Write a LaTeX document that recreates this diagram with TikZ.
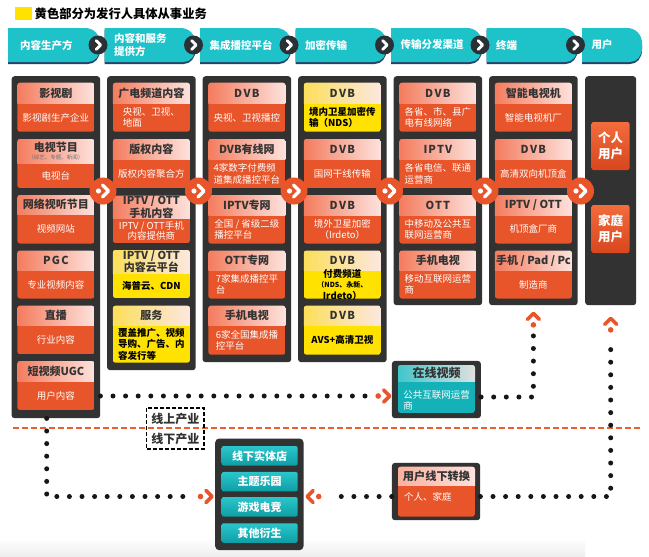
\documentclass[tikz,border=0pt]{standalone}
\usepackage{fontspec}
\setmainfont{Noto Sans CJK SC}
\usetikzlibrary{calc}
\definecolor{ctab}{HTML}{1EC3CA}
\definecolor{ctabsh}{HTML}{26416B}
\definecolor{cframe}{HTML}{323232}
\definecolor{corange}{HTML}{E8552A}
\definecolor{chdrL}{HTML}{F47C5E}
\definecolor{chdrR}{HTML}{FDE2DD}
\definecolor{cyel}{HTML}{FFE200}
\definecolor{cyhL}{HTML}{FCDF5A}
\definecolor{cyhR}{HTML}{FCE7E0}
\definecolor{ctxt}{HTML}{333333}
\definecolor{cteal}{HTML}{14B2B8}
\definecolor{ctealL}{HTML}{2AC6CB}
\definecolor{ctealD}{HTML}{0E9EA4}
\definecolor{cthL}{HTML}{40C6CA}
\definecolor{cthR}{HTML}{E0E0E0}
\definecolor{cdark}{HTML}{2B3036}
\definecolor{cdot}{HTML}{161616}
\definecolor{cubL}{HTML}{F26C3C}
\definecolor{cubD}{HTML}{D8461E}
\definecolor{cred}{HTML}{E9602E}
\newcommand{\DVB}{D\kern1.3ptV\kern1.3ptB}
\newcommand{\IPTV}{I\kern1ptP\kern1ptT\kern1ptV}
\newcommand{\OTT}{O\kern1ptT\kern1ptT}
\newcommand{\PGC}{P\kern1.3ptG\kern1.3ptC}
\tikzset{
 frame/.style={fill=cframe, rounded corners=3pt, inner sep=0pt, draw=none},
 hdrtxt/.style={font=\bfseries\fontsize{11}{10.8}\selectfont, text=ctxt, align=center, inner sep=0pt},
 o-body/.style={fill=corange},
 o-hdr/.style={left color=chdrL, right color=chdrR},
 o-txt/.style={font=\fontsize{9.5}{11.5}\selectfont, text=white, align=center, inner sep=0pt},
 y-body/.style={fill=cyel},
 y-hdr/.style={left color=cyhL, right color=cyhR},
 y-txt/.style={font=\bfseries\fontsize{9.5}{11.5}\selectfont, text=black, align=center, inner sep=0pt},
 tabtxt/.style={font=\bfseries\fontsize{10.5}{13}\selectfont, text=white, anchor=west, align=left, inner sep=0pt},
 userbtn/.style={top color=cubL, bottom color=cubD, rounded corners=2pt, minimum width=38pt, minimum height=48pt, text=white, font=\bfseries\fontsize{12.5}{16}\selectfont, align=center, inner sep=0pt},
 tealbtn/.style={top color=ctealL, bottom color=ctealD, rounded corners=2pt, minimum width=76pt, minimum height=19.5pt, text=white, font=\bfseries\fontsize{11}{12}\selectfont, inner sep=0pt},
 dotsline/.style={draw=cdot, line width=5pt, dash pattern=on 0pt off 12.6pt, line cap=round},
 reddash/.style={draw=cred, line width=2.2pt, dash pattern=on 6pt off 3pt},
 lbltxt/.style={font=\bfseries\fontsize{12}{13}\selectfont, text=ctxt, inner sep=0pt},
 oarr/.pic={\fill[corange] (-11.5,0) circle[radius=2.8];
   \draw[corange, line width=3.6pt, line cap=round, line join=round] (-6,-6) -- (0,0) -- (-6,6);},
 carr/.pic={\fill[corange] (0,0) circle[radius=13.5];
   \fill[white] (-4.5,0) circle[radius=2.6];
   \draw[white, line width=3.5pt, line cap=round, line join=round] (-0.5,-6) -- (5.5,0) -- (-0.5,6);},
 harr/.pic={\fill[cdark] (0,0) circle[radius=9.5];
   \draw[white, line width=2.8pt, line cap=round, line join=round] (-1.8,-4.5) -- (2.7,0) -- (-1.8,4.5);}
}
\newcommand{\tabfill}[3]{%
 \fill[#3] (#1,28) -- ({#2-15},28) .. controls ({#2-6},28) and (#2,35) .. (#2,43) -- (#2,48) .. controls (#2,56) and ({#2-5},62) .. ({#2-12},62) -- (#1,62) -- cycle;}
\newcommand{\anycard}[9]{%
 \begin{scope}
  \clip[rounded corners=2.5pt] (#2,#3) rectangle ++(77,#4);
  \fill[#6-body] (#2,#3) rectangle ++(77,#4);
  \shade[#6-hdr] (#2,#3) rectangle ++(77,#5);
 \end{scope}
 \node[hdrtxt] (#1h) at ({#2+38.5},{#3+#5/2}) {#8};
 \node[#6-txt,#7] (#1b) at ({#2+38.5},{#3+#5+(#4-#5)/2}) {#9};
}
\begin{document}
\begin{tikzpicture}[x=1pt,y=-1pt]
\useasboundingbox (0,0) rectangle (649,557);
\fill[white] (0,0) rectangle (649,557);
\shade[top color=white, bottom color=black!7] (0,538) rectangle (585,557);
% title
\fill[cyel] (15,7) rectangle (31.5,19.5);
\node[anchor=west, font=\bfseries\fontsize{12.3}{14}\selectfont, inner sep=0pt] (title) at (34.5,13.3) {黄色部分为发行人具体从事业务};
% header tabs
\tabfill{8}{100}{ctabsh, yshift=-2pt}\tabfill{8}{100}{ctab}
\tabfill{104.5}{195.5}{ctabsh, yshift=-2pt}\tabfill{104.5}{195.5}{ctab}
\tabfill{200}{291}{ctabsh, yshift=-2pt}\tabfill{200}{291}{ctab}
\tabfill{295.5}{386.5}{ctabsh, yshift=-2pt}\tabfill{295.5}{386.5}{ctab}
\tabfill{391}{482}{ctabsh, yshift=-2pt}\tabfill{391}{482}{ctab}
\tabfill{486.5}{577.5}{ctabsh, yshift=-2pt}\tabfill{486.5}{577.5}{ctab}
\tabfill{582}{642}{ctabsh, yshift=-2pt}\tabfill{582}{642}{ctab}
\node[tabtxt] (t1) at (20,45) {内容生产方};
\node[tabtxt, font=\bfseries\fontsize{10.5}{13.4}\selectfont] (t2) at (114,45) {内容和服务\\提供方};
\node[tabtxt] (t3) at (209.5,45) {集成播控平台};
\node[tabtxt] (t4) at (305,45) {加密传输};
\node[tabtxt] (t5) at (400.5,45) {传输分发渠道};
\node[tabtxt] (t6) at (496,45) {终端};
\node[tabtxt] (t7) at (591.5,45) {用户};
\foreach \i in {0,...,5} { \pic at ({98+95.5*\i},45) {harr}; }
% column frames
\node[frame, anchor=north west, minimum width=88.6pt, minimum height=342pt] (f1) at (11.4,76) {};
\node[frame, anchor=north west, minimum width=88.6pt, minimum height=294pt] (f2) at (106.9,76) {};
\node[frame, anchor=north west, minimum width=88.6pt, minimum height=286pt] (f3) at (202.4,76) {};
\node[frame, anchor=north west, minimum width=88.6pt, minimum height=286pt] (f4) at (297.9,76) {};
\node[frame, anchor=north west, minimum width=88.6pt, minimum height=229pt] (f5) at (393.4,76) {};
\node[frame, anchor=north west, minimum width=88.6pt, minimum height=229pt] (f6) at (488.9,76) {};
\node[frame, anchor=north west, minimum width=51pt, minimum height=229pt] (f7) at (585,76) {};
% column 1
\anycard{c11}{17.4}{82.7}{49}{20.5}{o}{}{影视剧}{影视剧生产企业}
\anycard{c12}{17.4}{139}{49}{24}{o}{}{电视节目\\[-2pt]{\fontsize{5.5}{6}\selectfont\mdseries\color{ctxt!70}（综艺、专题、新闻）}}{电视台}
\anycard{c13}{17.4}{195}{48.5}{19.5}{o}{}{网络视听节目}{视频网站}
\anycard{c14}{17.4}{250.5}{48}{20}{o}{}{\PGC}{专业视频内容}
\anycard{c15}{17.4}{305.7}{48.5}{20}{o}{}{直播}{行业内容}
\anycard{c16}{17.4}{361}{49}{20}{o}{}{短视频UGC}{用户内容}
% column 2
\anycard{c21}{112.9}{82.7}{49}{20.5}{o}{align=left}{广电频道内容}{央视、卫视、\\地面}
\anycard{c22}{112.9}{139}{49}{20.5}{o}{}{版权内容}{版权内容聚合方}
\anycard{c23}{112.9}{195.5}{47.5}{23}{o}{font=\fontsize{9.5}{10.5}\selectfont}{IPTV / OTT\\手机内容}{IPTV / OTT手机\\内容提供商}
\anycard{c24}{112.9}{250}{48}{23}{y}{}{IPTV / OTT\\内容云平台}{海普云、CDN}
\anycard{c25}{112.9}{305.7}{57}{20}{y}{align=left}{服务}{覆盖推广、视频\\导购、广告、内\\容发行等}
% column 3
\anycard{c31}{208.4}{82.7}{49}{20.5}{o}{}{\DVB}{央视、卫视播控}
\anycard{c32}{208.4}{139}{49}{20.5}{o}{align=left}{DVB有线网}{4家数字付费频\\道集成播控平台}
\anycard{c33}{208.4}{195}{48.5}{20}{o}{align=left}{IPTV专网}{全国 / 省级二级\\播控平台}
\anycard{c34}{208.4}{250.5}{48}{20}{o}{align=left}{OTT专网}{7家集成播控平\\台}
\anycard{c35}{208.4}{305.7}{49}{20}{o}{align=left}{手机电视}{6家全国集成播\\控平台}
% column 4
\anycard{c41}{303.9}{82.7}{49}{20.5}{y}{align=left}{\DVB}{境内卫星加密传\\输（NDS）}
\anycard{c42}{303.9}{139}{49}{20.5}{o}{}{\DVB}{国网干线传输}
\anycard{c43}{303.9}{195}{48.5}{20}{o}{}{\DVB}{境外卫星加密\\（Irdeto）}
\anycard{c44}{303.9}{250.5}{48}{20}{y}{}{\DVB}{付费频道\\[-1pt]\fontsize{7}{7.2}\selectfont（NDS、永新、\\Irdeto）}
\anycard{c45}{303.9}{305.7}{49}{20}{y}{}{\DVB}{AVS+高清卫视}
% column 5
\anycard{c51}{399.4}{82.7}{49}{20.5}{o}{align=left}{\DVB}{各省、市、县广\\电有线网络}
\anycard{c52}{399.4}{139}{49}{20.5}{o}{align=left}{\IPTV}{各省电信、联通\\运营商}
\anycard{c53}{399.4}{195}{48.5}{20}{o}{align=left}{\OTT}{中移动及公共互\\联网运营商}
\anycard{c54}{399.4}{250.5}{48}{20}{o}{align=left}{手机电视}{移动互联网运营\\商}
% column 6
\anycard{c61}{494.9}{82.7}{49}{20.5}{o}{}{智能电视机}{智能电视机厂}
\anycard{c62}{494.9}{139}{49}{20.5}{o}{}{\DVB}{高清双向机顶盒}
\anycard{c63}{494.9}{195}{48.5}{20}{o}{}{IPTV / OTT}{机顶盒厂商}
\anycard{c64}{494.9}{250.5}{48}{20}{o}{}{手机 / Pad / Pc}{制造商}
% column 7
\node[userbtn] (pu) at (610.5,146) {个人\\用户};
\node[userbtn] (fu) at (610.5,229) {家庭\\用户};
% circle arrows between columns
\foreach \i in {0,...,5} { \pic at ({103+95.5*\i},191) {carr}; }
% online / offline divider
\draw[reddash] (13,428) -- (641,428);
\node[draw=black, line width=1.3pt, dash pattern=on 4pt off 2pt, minimum width=57.3pt, minimum height=41pt, inner sep=0pt] (lbox) at (175.3,428.5) {};
\node[lbltxt] (lup) at (175.3,419) {线上产业};
\node[lbltxt] (ldown) at (175.3,438.5) {线下产业};
% online video box
\node[frame, anchor=north west, minimum width=89pt, minimum height=57.3pt] (online) at (391.7,360.7) {};
\begin{scope}
 \clip[rounded corners=2.5pt] (398,365) rectangle (475,413);
 \fill[cteal] (398,365) rectangle (475,413);
 \shade[left color=cthL, right color=cthR] (398,365) rectangle (475,381.7);
\end{scope}
\node[hdrtxt, font=\bfseries\fontsize{12}{13}\selectfont] (onlineh) at (436.5,373.4) {在线视频};
\node[o-txt, align=left] (onlineb) at (436.5,400.5) {公共互联网运营\\商};
% user offline conversion box
\node[frame, anchor=north west, minimum width=88.3pt, minimum height=57.3pt] (uoff) at (391.7,462.7) {};
\begin{scope}
 \clip[rounded corners=2.5pt] (398,466.7) rectangle (475,516.7);
 \fill[corange] (398,466.7) rectangle (475,516.7);
 \shade[left color=chdrL!60, right color=chdrR] (398,466.7) rectangle (475,485);
\end{scope}
\node[hdrtxt, font=\bfseries\fontsize{11.2}{12}\selectfont] (uoffh) at (436.5,476) {用户线下转换};
\node[o-txt, anchor=west] (uoffb) at (404,496.5) {个人、家庭};
% offline industry box
\node[frame, anchor=north west, minimum width=88.3pt, minimum height=111.7pt, rounded corners=4pt] (offl) at (215,438.3) {};
\node[tealbtn] (b1) at (259.7,455.8) {线下实体店};
\node[tealbtn] (b2) at (259.7,481.7) {主题乐园};
\node[tealbtn] (b3) at (259.7,506.8) {游戏电竞};
\node[tealbtn] (b4) at (259.7,533) {其他衍生};
% dotted connectors
\coordinate (y396) at (0,396);
\coordinate (y397) at (0,397);
\coordinate (y496) at (0,496.5);
\draw[dotsline] (f1.east |- y396) -- ($(online.west |- y396)+(-21,0)$);
\pic at ($(online.west |- y396)+(-2,0)$) {oarr};
\draw[dotsline] (online.east |- y397) -| ($(f6.south)+(0,28)$);
\pic[rotate=90] at ($(f6.south)+(0,8)$) {oarr};
\draw[dotsline] (uoff.east |- y496) -| ($(f7.south)+(0,33)$);
\pic[rotate=90] at ($(f7.south)+(0,13)$) {oarr};
\draw[dotsline] (uoff.west |- y496) -- ($(offl.east |- y496)+(26,0)$);
\pic[rotate=180] at ($(offl.east |- y496)+(3.5,0)$) {oarr};
\draw[dotsline] ($(f1.south west)+(35.3,0)$) |- ($(offl.west |- y496)+(-24,0)$);
\pic at ($(offl.west |- y496)+(-3,0)$) {oarr};
\end{tikzpicture}
\end{document}
